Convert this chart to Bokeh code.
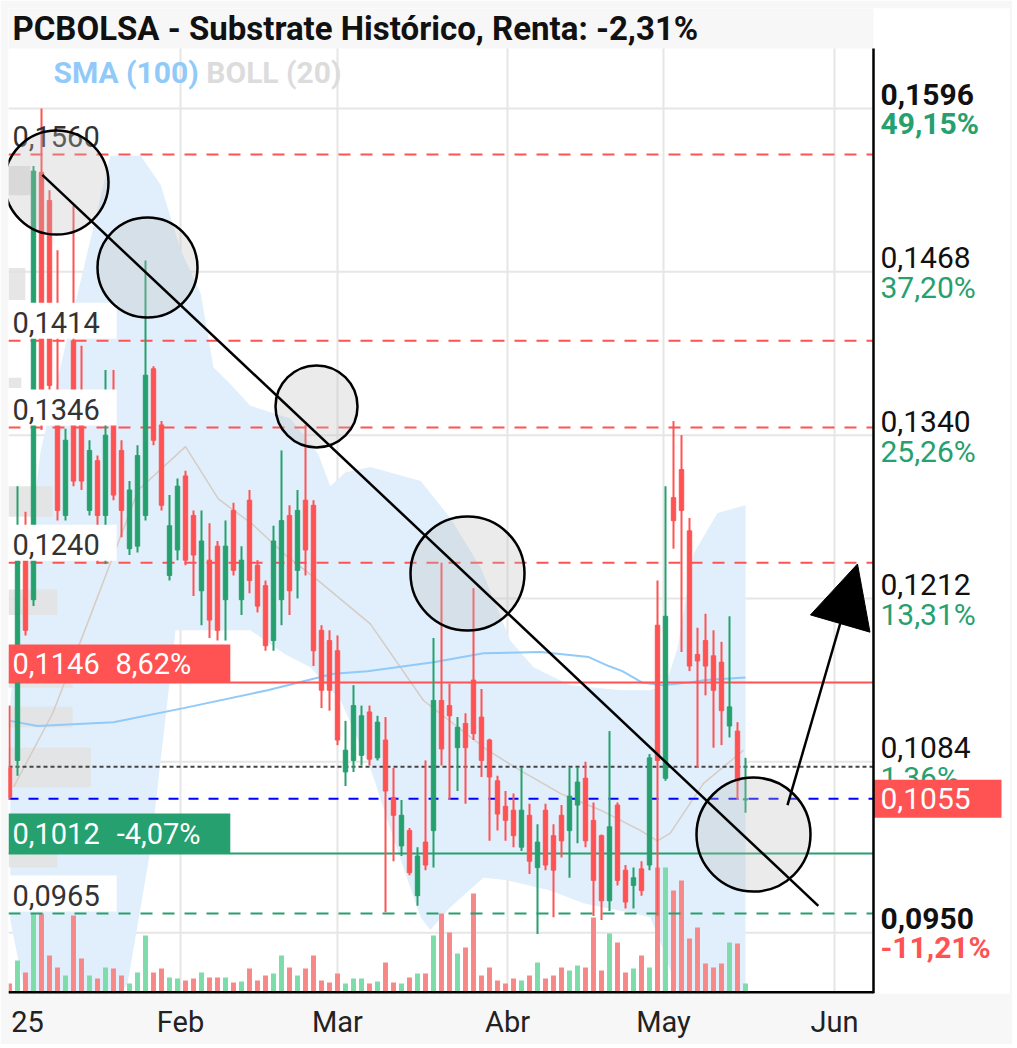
import numpy as np
from bokeh.plotting import figure
from bokeh.models import Range1d, FixedTicker, Arrow, NormalHead, ColumnDataSource
from bokeh.core.properties import value
from bokeh.embed import file_html
from bokeh.resources import INLINE

# ---------------- data (trading-day index based) ----------------
opens = [0.1079,0.1085,0.1246,0.1211,0.1546,0.1524,0.1351,0.1277,0.1414,0.1351,
 0.1281,0.1320,0.1277,0.1348,0.1328,0.1251,0.1253,0.1277,0.1392,0.1348,
 0.1230,0.1250,0.1308,0.1277,0.1218,0.1242,0.1253,0.1211,0.1281,0.1211,
 0.1289,0.1238,0.1222,0.1179,0.1211,0.1277,0.1234,0.1289,0.1285,0.1187,
 0.1179,0.1171,0.1076,0.1085,0.1089,0.1123,0.1087,0.1101,0.1056,0.1018,
 0.1030,0.0979,0.1021,0.1030,0.1132,0.1128,0.1095,0.1114,0.1148,0.1119,
 0.1101,0.1069,0.1049,0.1046,0.1017,0.1042,0.1001,0.1046,0.1026,0.1042,
 0.1030,0.1050,0.1071,0.1038,0.1026,0.0975,0.1050,0.0999,0.0987,0.1000,
 0.1003,0.1191,0.1071,0.1291,0.1313,0.1265,0.1168,0.1179,0.1167,0.1162,
 0.1112,0.1108,0.1054]
highs = [0.1128,0.1300,0.1280,0.1551,0.1596,0.1532,0.1485,0.1345,0.1520,0.1410,
 0.1336,0.1324,0.1391,0.1391,0.1336,0.1304,0.1332,0.1477,0.1394,0.1351,
 0.1293,0.1306,0.1312,0.1281,0.1281,0.1271,0.1257,0.1273,0.1287,0.1253,
 0.1297,0.1242,0.1226,0.1269,0.1328,0.1285,0.1297,0.1348,0.1289,0.1191,
 0.1187,0.1183,0.1116,0.1144,0.1128,0.1128,0.1120,0.1119,0.1079,0.1054,
 0.1032,0.1017,0.1085,0.1181,0.1240,0.1145,0.1119,0.1122,0.1220,0.1141,
 0.1102,0.1073,0.1061,0.1059,0.1079,0.1051,0.1035,0.1051,0.1035,0.1050,
 0.1079,0.1079,0.1084,0.1052,0.1027,0.1108,0.1052,0.1003,0.1001,0.1006,
 0.1090,0.1226,0.1300,0.1351,0.1340,0.1275,0.1189,0.1200,0.1187,0.1178,
 0.1198,0.1115,0.1087]
lows = [0.1054,0.1073,0.1183,0.1206,0.1344,0.1367,0.1273,0.1273,0.1300,0.1297,
 0.1277,0.1239,0.1239,0.1289,0.1260,0.1246,0.1248,0.1273,0.1332,0.1281,
 0.1226,0.1242,0.1238,0.1214,0.1191,0.1181,0.1179,0.1179,0.1230,0.1199,
 0.1216,0.1201,0.1171,0.1171,0.1191,0.1199,0.1212,0.1230,0.1159,0.1126,
 0.1124,0.1097,0.1065,0.1076,0.1081,0.1081,0.1085,0.0966,0.1006,0.1010,
 0.0995,0.0971,0.0999,0.1001,0.1081,0.1054,0.1061,0.1051,0.1101,0.1072,
 0.1022,0.1030,0.1022,0.1017,0.1014,0.0996,0.0949,0.0999,0.0962,0.1009,
 0.0993,0.1020,0.1017,0.0963,0.0960,0.0967,0.0987,0.0969,0.0969,0.0979,
 0.0999,0.0963,0.1069,0.1251,0.1170,0.1155,0.1079,0.1136,0.1095,0.1097,
 0.1103,0.1054,0.1044]
closes = [0.1056,0.1247,0.1187,0.1547,0.1367,0.1379,0.1281,0.1336,0.1304,0.1304,
 0.1328,0.1277,0.1340,0.1293,0.1281,0.1297,0.1324,0.1387,0.1336,0.1285,
 0.1269,0.1300,0.1242,0.1246,0.1257,0.1195,0.1187,0.1253,0.1234,0.1242,
 0.1226,0.1206,0.1175,0.1257,0.1273,0.1218,0.1281,0.1250,0.1171,0.1140,
 0.1140,0.1101,0.1093,0.1128,0.1120,0.1086,0.1115,0.1061,0.1042,0.1042,
 0.0997,0.1010,0.1003,0.1132,0.1094,0.1120,0.1111,0.1095,0.1106,0.1085,
 0.1072,0.1043,0.1038,0.1026,0.1046,0.1006,0.1021,0.1003,0.0999,0.1022,
 0.1057,0.1068,0.1022,0.0991,0.0975,0.1033,0.0991,0.0974,0.0993,0.0983,
 0.1087,0.1085,0.1198,0.1273,0.1281,0.1159,0.1163,0.1159,0.1140,0.1124,
 0.1127,0.1069,0.1055]
volumes_k = [10,33,21,80,80,38,26,18,78,35,
 18,15,26,25,18,10,21,58,21,25,
 16,15,13,15,21,16,16,16,11,12,
 25,13,18,20,38,26,18,25,38,13,
 11,20,10,15,15,10,12,31,11,10,
 16,20,20,58,80,61,40,46,100,18,
 26,13,10,15,13,18,31,15,18,26,
 23,28,26,76,23,60,51,21,25,38,
 26,126,126,103,113,55,66,30,26,30,
 51,50,10]

# Bollinger (20) bands and SMA (100)
boll_up_x = [0.1, 3.9, 8.9, 12.6, 16.4, 18.9, 21.4, 23.9, 25.5, 27.6, 30.1, 35.1, 38.6, 40.1, 42.0,
             45.1, 51.4, 55.1, 58.9, 62.6, 65.5, 70.1, 76.4, 80.1, 82.0, 83.5, 85.5, 88.5, 92.0]
boll_up = [0.1132, 0.1328, 0.1461, 0.1559, 0.1559, 0.1536, 0.1485, 0.1451, 0.1393, 0.1380, 0.1363,
           0.1353, 0.1325, 0.1300, 0.1311, 0.1315, 0.1304, 0.1275, 0.1236, 0.1179, 0.1158, 0.1144,
           0.1140, 0.1140, 0.1144, 0.1173, 0.1247, 0.1279, 0.1285]
boll_lo_x = [0.1, 2.6, 11.4, 14.75, 17.6, 20.75, 23.9, 30.1, 34.5, 37.6, 41.4, 45.1, 48.9, 51.4,
             52.6, 55.1, 59.25, 62.25, 67.6, 71.75, 78.0, 80.1, 81.75, 83.9, 92.0]
boll_lo = [0.0960, 0.0881, 0.0881, 0.0910, 0.1014, 0.1187, 0.1187, 0.1187, 0.1168, 0.1158, 0.1132,
           0.1079, 0.1007, 0.0962, 0.0952, 0.0970, 0.0993, 0.0991, 0.0983, 0.0973, 0.0965, 0.0962,
           0.0936, 0.0897, 0.0881]
boll_mid_x = [0.5, 5.4, 9.9, 16.1, 22.0, 26.1, 30.4, 34.5, 38.6, 45.1, 51.75, 59.75, 63.9, 68.9,
              73.9, 78.9, 81.0, 82.6, 86.75, 91.75]
boll_mid = [0.1064, 0.1122, 0.1195, 0.1297, 0.1331, 0.1290, 0.1270, 0.1246, 0.1226, 0.1192, 0.1132,
            0.1093, 0.1077, 0.1059, 0.1046, 0.1030, 0.1022, 0.1028, 0.1067, 0.1093]
sma_x = [0.1, 3.5, 13.0, 21.75, 32.25, 40.5, 44.75, 53.0, 59.25, 66.4, 72.4, 74.9, 76.6, 79.1, 81.6,
         84.9, 87.0, 92.0]
sma = [0.1116, 0.1112, 0.1115, 0.1126, 0.1140, 0.1153, 0.1155, 0.1162, 0.1169, 0.1170, 0.1166,
       0.1159, 0.1155, 0.1146, 0.1144, 0.1146, 0.1148, 0.1150]

# volume profile (left)
prof_top = [0.1551, 0.1471, 0.1385, 0.1300, 0.1219, 0.1170, 0.1127, 0.1095, 0.1012]
prof_bot = [0.1528, 0.1446, 0.1377, 0.1276, 0.1199, 0.1142, 0.1111, 0.1064, 0.1001]
prof_len = [2.75, 2.1, 1.6, 5.5, 6.1, 8.0, 8.0, 10.3, 6.1]

# axis ticks / labels
month_pos = [2.25, 21.375, 41.0, 62.25, 81.75, 103.125]
month_labels = ["25", "Feb", "Mar", "Abr", "May", "Jun"]
right_vals = [0.1596, 0.1468, 0.1340, 0.1212, 0.1084, 0.0950]
right_price_txt = ["0,1596", "0,1468", "0,1340", "0,1212", "0,1084", "0,0950"]
right_pct_txt = ["49,15%", "37,20%", "25,26%", "13,31%", "1,36%", "-11,21%"]

# horizontal levels
dash_red_levels = [0.1560, 0.1414, 0.1346, 0.1240]
dash_green_levels = [0.0965]
level_labels = ["0,1560", "0,1414", "0,1346", "0,1240", "0,0965"]
res_level, res_txt, res_pct = 0.1146, "0,1146", "8,62%"
sup_level, sup_txt, sup_pct = 0.1012, "0,1012", "-4,07%"
last_price, last_label = 0.1055, "0,1055"
prev_close = 0.1080

# drawing annotations
circle_x = [5.875, 17.25, 38.375, 57.25, 93.0]
circle_y = [0.1538, 0.14714, 0.13625, 0.12315, 0.10269]
circle_d = [104, 100, 82, 114, 114]
trend_x = [4.1, 101.1]
trend_y = [0.1544, 0.0971]
arrow_from = (97.25, 0.1050)
arrow_to = (106.0, 0.1239)

title_txt = "PCBOLSA - Substrate Histórico, Renta: -2,31%"

# ---------------- styling ----------------
FONT = "Roboto"
GREEN = "#26a06e"
RED = "#ff5252"
VGREEN = "#7ddcaa"
VRED = "#f78888"

W, H = 1012, 1044
LEFT, TOP, RIGHT = 8, 8, 3
BOTTOM = H - 993
FRAME_H = H - TOP - BOTTOM
X0, X1 = -0.125, 125.0
Y0, Y1 = 0.090230, 0.167445
DV = (Y1 - Y0) / FRAME_H
XR = 108.0
XT = 108.875
Y_TITLE = Y1 - 40 * DV

n = len(opens)
o = np.array(opens); c = np.array(closes)
up = c >= o
src = ColumnDataSource(dict(
    x=np.arange(n), h=highs, l=lows,
    top=np.maximum(o, c), bot=np.minimum(o, c),
    col=[GREEN if u else RED for u in up],
    vcol=[VGREEN if u else VRED for u in up],
    vol=[v * 1000 for v in volumes_k],
))

p = figure(width=W, height=H, x_range=Range1d(X0, X1), y_range=Range1d(Y0, Y1),
           output_backend="svg", toolbar_location=None,
           min_border_left=LEFT, min_border_right=RIGHT, min_border_top=TOP, min_border_bottom=BOTTOM,
           y_axis_location=None)
p.grid.visible = False
p.outline_line_color = None
p.background_fill_color = "white"
p.border_fill_color = "#f7f7f7"
p.extra_y_ranges = {"vol": Range1d(0, max(volumes_k) * 1000 * FRAME_H / 126.0)}

ax = p.xaxis[0]
ax.ticker = FixedTicker(ticks=month_pos)
ax.major_label_overrides = {pos: lab for pos, lab in zip(month_pos, month_labels)}
ax.axis_line_color = None
ax.major_tick_line_color = None
ax.minor_tick_line_color = None
ax.major_label_text_font = FONT
ax.major_label_text_font_size = "29px"
ax.major_label_text_color = "#222222"
ax.major_label_standoff = 5

# grid
grid_x = month_pos[1:]
p.segment(x0=grid_x, y0=Y0, x1=grid_x, y1=Y1, line_color="#e6e6e6", line_width=2)
p.segment(x0=X0, y0=right_vals, x1=XR, y1=right_vals, line_color="#e6e6e6", line_width=2)

# bollinger area
p.patch(boll_up_x + boll_lo_x[::-1], boll_up + boll_lo[::-1], fill_color="#e0effb", line_color=None)

# volume profile
p.quad(left=X0, right=[X0 + w for w in prof_len], top=prof_top, bottom=prof_bot,
       fill_color="#e2e2e2", fill_alpha=0.85, line_color=None)

# volume bars
p.vbar(x="x", width=0.62, top="vol", bottom=0, y_range_name="vol", source=src,
       fill_color="vcol", line_color=None)

# indicators
p.line(boll_mid_x, boll_mid, line_color="#d6ccc4", line_width=1.5)
p.line(sma_x, sma, line_color="#90caf9", line_width=2)

# levels
p.segment(x0=X0, y0=dash_red_levels, x1=XR, y1=dash_red_levels, line_color=RED, line_width=2, line_dash="12 10")
p.segment(x0=X0, y0=dash_green_levels, x1=XR, y1=dash_green_levels, line_color=GREEN, line_width=2, line_dash="12 10")
p.segment(x0=X0, y0=[res_level], x1=XR, y1=[res_level], line_color=RED, line_width=2)
p.segment(x0=X0, y0=[sup_level], x1=XR, y1=[sup_level], line_color=GREEN, line_width=2)
p.segment(x0=X0, y0=[prev_close], x1=XR, y1=[prev_close], line_color="#444444", line_width=2, line_dash="4 3")
p.segment(x0=X0, y0=[last_price], x1=XR, y1=[last_price], line_color="#0000ff", line_width=2, line_dash="10 10")

# candles
p.segment(x0="x", y0="h", x1="x", y1="l", line_color="col", line_width=2, source=src)
p.vbar(x="x", width=0.55, top="top", bottom="bot", fill_color="col", line_color="col", line_width=1, source=src)

# level labels (left)
all_levels = dash_red_levels + dash_green_levels
boxed = all_levels[1:]
p.quad(left=X0, right=13.4, bottom=[v + 2 * DV for v in boxed], top=[v + 38 * DV for v in boxed],
       fill_color="white", line_color=None)
p.text(x=0.375, y=all_levels, text=level_labels, text_baseline="middle", y_offset=-18,
       text_font=value(FONT), text_font_size="29px", text_color="#333333")

p.quad(left=X0, right=27.6, bottom=res_level, top=res_level + 38 * DV, fill_color=RED, line_color=None)
p.quad(left=X0, right=27.6, bottom=sup_level, top=sup_level + 40 * DV, fill_color=GREEN, line_color=None)
p.text(x=[0.375, 13.25], y=[res_level, res_level], text=[res_txt, res_pct],
       text_baseline="middle", y_offset=-19,
       text_font=value(FONT), text_font_size="29px", text_color="white")
p.text(x=[0.375, 13.4], y=[sup_level, sup_level], text=[sup_txt, sup_pct],
       text_baseline="middle", y_offset=-20,
       text_font=value(FONT), text_font_size="29px", text_color="white")

# circles / trend line / arrow
p.scatter(circle_x, circle_y, size=circle_d, marker="circle", fill_color="#bdbdbd", fill_alpha=0.3,
          line_color="black", line_width=2.5)
p.line(trend_x, trend_y, line_color="black", line_width=2.5)
p.add_layout(Arrow(x_start=arrow_from[0], y_start=arrow_from[1], x_end=arrow_to[0], y_end=arrow_to[1],
                   line_color="black", line_width=2.5,
                   end=NormalHead(size=62, fill_color="black", line_color="black")))

# title bar and legend
p.quad(left=X0, right=XR, top=Y1, bottom=Y_TITLE, fill_color="#f7f7f7", line_color=None)
p.text(x=0.375, y=Y1 - 20 * DV, text=[title_txt], text_baseline="middle",
       text_font=value(FONT), text_font_size="33px", text_font_style="bold", text_color="#111111")
p.text(x=[5.5, 24.6], y=Y1 - 64 * DV, text=["SMA (100)", "BOLL (20)"], text_baseline="middle",
       text_font=value(FONT), text_font_size="30px", text_font_style="bold",
       text_color=["#90caf9", "#dcdcdc"])

# right price labels
bold_i = [0, len(right_vals) - 1]
norm_i = list(range(1, len(right_vals) - 1))
p.text(x=XT, y=[right_vals[i] for i in norm_i], text=[right_price_txt[i] for i in norm_i],
       text_baseline="middle", y_offset=-14, text_font=value(FONT), text_font_size="30px", text_color="#111111")
p.text(x=XT, y=[right_vals[i] for i in norm_i], text=[right_pct_txt[i] for i in norm_i],
       text_baseline="middle", y_offset=16, text_font=value(FONT), text_font_size="30px", text_color=GREEN)
p.text(x=XT, y=[right_vals[i] for i in bold_i], text=[right_price_txt[i] for i in bold_i],
       text_baseline="middle", y_offset=-14, text_font=value(FONT), text_font_size="30px",
       text_font_style="bold", text_color="#111111")
p.text(x=XT, y=[right_vals[i] for i in bold_i], text=[right_pct_txt[i] for i in bold_i],
       text_baseline="middle", y_offset=15, text_font=value(FONT), text_font_size="30px",
       text_font_style="bold", text_color=[GREEN, RED])

p.quad(left=XR, right=XR + 16, bottom=last_price - 19 * DV, top=last_price + 19 * DV,
       fill_color=RED, line_color=None)
p.text(x=XT, y=[last_price], text=[last_label], text_baseline="middle",
       text_font=value(FONT), text_font_size="30px", text_color="white")

# chart frame lines
p.segment(x0=[XR], y0=[Y0], x1=[XR], y1=[Y_TITLE], line_color="black", line_width=2.5)
p.segment(x0=X0, y0=Y0 + DV, x1=XR, y1=Y0 + DV, line_color="black", line_width=3)

open("out.html", "w").write(file_html(p, INLINE))
